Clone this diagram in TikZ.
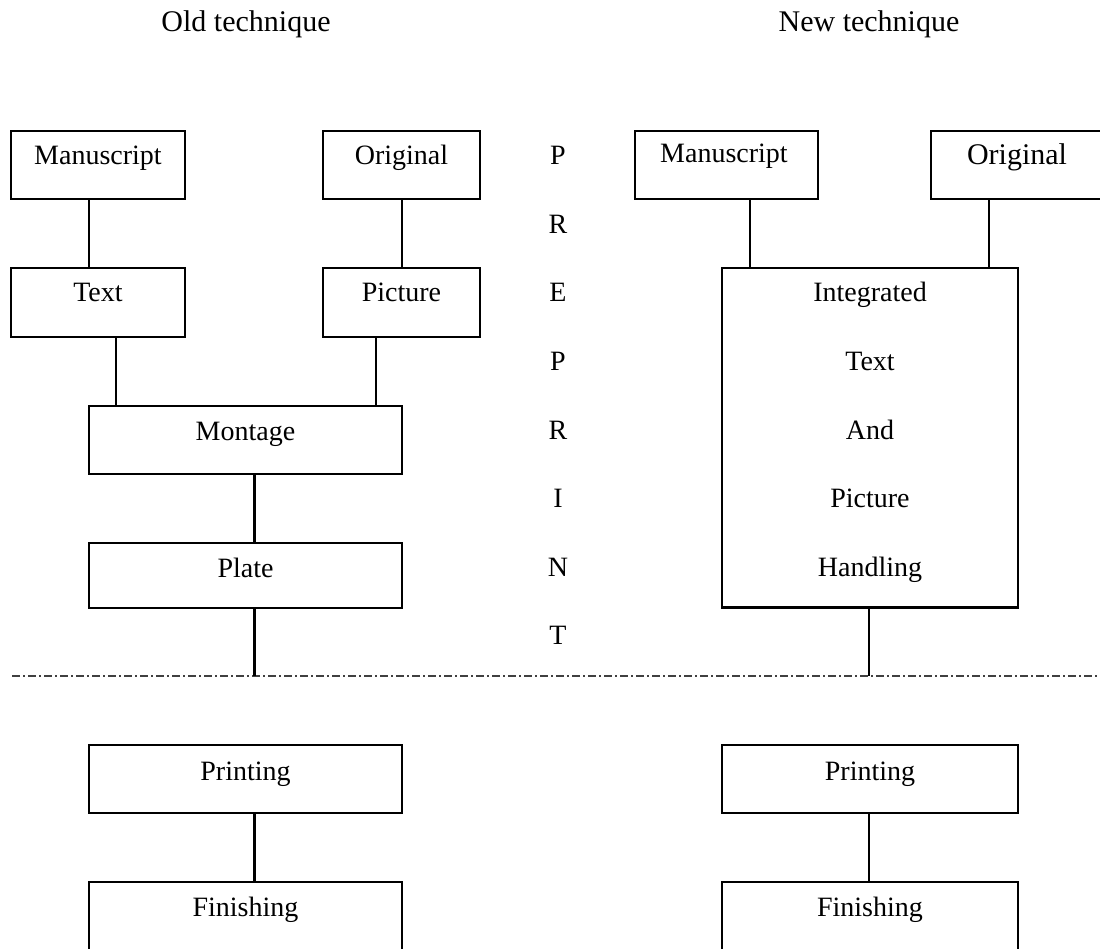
\documentclass[tikz,border=0pt]{standalone}
\usepackage{fontspec}
\setmainfont{Liberation Serif}
\begin{document}
\begin{tikzpicture}[x=1pt,y=-1pt,
  box/.style={draw=black,line width=2.2pt,inner sep=0pt,rectangle},
  lbl/.style={inner sep=0pt,anchor=base,font=\fontsize{28}{34}\selectfont},
  ttl/.style={inner sep=0pt,anchor=base,font=\fontsize{30}{36}\selectfont},
  conn/.style={line width=2.2pt},
  sep/.style={line width=1.6pt,draw=black!75,dash pattern=on 8pt off 3pt on 2pt off 3pt}]
\useasboundingbox (0,0) rectangle (1100,949);
\clip (0,0) rectangle (1100,949);
% titles
\node[ttl] (t1) at (246,32) {Old technique};
\node[ttl] (t2) at (869,32) {New technique};
% old technique boxes
\node[box,minimum width=174pt,minimum height=68pt] (ml) at (98,165) {};
\node[lbl] (mlt) at (98,165) {Manuscript};
\node[box,minimum width=157pt,minimum height=68pt] (ol) at (401.5,165) {};
\node[lbl] (olt) at (401.5,165) {Original};
\node[box,minimum width=174pt,minimum height=69pt] (tx) at (98,302.5) {};
\node[lbl] (txt) at (98,302) {Text};
\node[box,minimum width=157pt,minimum height=69pt] (pi) at (401.5,302.5) {};
\node[lbl] (pit) at (401.5,302) {Picture};
\node[box,minimum width=313pt,minimum height=68pt] (mo) at (245.5,440) {};
\node[lbl] (mot) at (245.5,440) {Montage};
\node[box,minimum width=313pt,minimum height=65pt] (pl) at (245.5,575.5) {};
\node[lbl] (plt) at (245.5,577) {Plate};
\node[box,minimum width=313pt,minimum height=68pt] (pL) at (245.5,779) {};
\node[lbl] (pLt) at (245.5,780) {Printing};
\node[box,minimum width=313pt,minimum height=78pt] (fL) at (245.5,921) {};
\node[lbl] (fLt) at (245.5,916) {Finishing};
% new technique boxes
\node[box,minimum width=183pt,minimum height=68pt] (mr) at (726.5,165) {};
\node[lbl] (mrt) at (724,163) {Manuscript};
\node[box,minimum width=174pt,minimum height=68pt] (or) at (1018,165) {};
\node[ttl] (ort) at (1017,165) {Original};
\node[box,minimum width=296pt,minimum height=339.5pt] (ig) at (870,437.75) {};
\node[lbl] (ig1) at (870,302) {Integrated};
\node[lbl] (ig2) at (870,370.5) {Text};
\node[lbl] (ig3) at (870,439) {And};
\node[lbl] (ig4) at (870,507.5) {Picture};
\node[lbl] (ig5) at (870,576) {Handling};
\node[box,minimum width=296pt,minimum height=68pt] (pR) at (870,779) {};
\node[lbl] (pRt) at (870,780) {Printing};
\node[box,minimum width=296pt,minimum height=78pt] (fR) at (870,921) {};
\node[lbl] (fRt) at (870,916) {Finishing};
% PREPRINT letters
\foreach \l [count=\i from 0] in {P,R,E,P,R,I,N,T}
  \node[lbl] (pp\i) at (558,165+68.5*\i) {\l};
% separator
\coordinate (dl) at (12,676);
\coordinate (dr) at (1100,676);
\draw[sep] (dl) -- (dr);
% connector x positions
\coordinate (x1) at (89,0);
\coordinate (x2) at (401.7,0);
\coordinate (x3) at (115.7,0);
\coordinate (x4) at (376,0);
\coordinate (x5) at (254.5,0);
\coordinate (x6) at (750,0);
\coordinate (x7) at (989,0);
\coordinate (x8) at (868.7,0);
% connectors
\draw[conn] (ml.south -| x1) -- (tx.north -| x1);
\draw[conn] (ol.south -| x2) -- (pi.north -| x2);
\draw[conn] (tx.south -| x3) -- (mo.north -| x3);
\draw[conn] (pi.south -| x4) -- (mo.north -| x4);
\draw[conn] (mo.south -| x5) -- (pl.north -| x5);
\draw[conn] (pl.south -| x5) -- (dl -| x5);
\draw[conn] (pL.south -| x5) -- (fL.north -| x5);
\draw[conn] (mr.south -| x6) -- (ig.north -| x6);
\draw[conn] (or.south -| x7) -- (ig.north -| x7);
\draw[conn] (ig.south -| x8) -- (dl -| x8);
\draw[conn] (pR.south -| x8) -- (fR.north -| x8);
\end{tikzpicture}
\end{document}
